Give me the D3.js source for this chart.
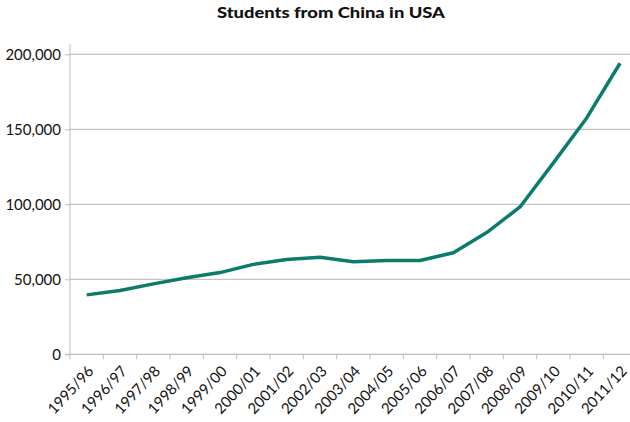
<!DOCTYPE html>
<html><head><meta charset="utf-8">
<script src="https://cdn.jsdelivr.net/npm/d3@7"></script>
<style>body{margin:0;background:#fff;} svg{display:block;} text{font-family:Lato,"Open Sans",sans-serif;}</style>
</head><body>
<svg id="c" width="630" height="422"></svg>
<script>
const years = ["1995/96","1996/97","1997/98","1998/99","1999/00","2000/01","2001/02","2002/03","2003/04","2004/05","2005/06","2006/07","2007/08","2008/09","2009/10","2010/11","2011/12"];
const students = [39613,42503,46958,51001,54466,59939,63211,64757,61765,62523,62582,67723,81127,98235,127628,157558,194029];
const yTicks = [0,50000,100000,150000,200000];
const title = "Students from China in USA";

(function(){
const svg = d3.select("#c");
const mLeft = 70, mRight = 636.7, mTop = 54.3, mBottom = 354.3;
const x = d3.scaleBand().domain(years).range([mLeft, mRight]);
const y = d3.scaleLinear().domain([0,200000]).range([mBottom, mTop]);

svg.append("text").attr("x",331).attr("y",18).attr("text-anchor","middle")
  .attr("font-weight",900).attr("font-size",15.5).attr("fill","#111")
  .attr("textLength",228).attr("lengthAdjust","spacingAndGlyphs").text(title);

// gridlines
svg.append("g").selectAll("line").data(yTicks.filter(d=>d>0)).join("line")
  .attr("x1",mLeft).attr("x2",630).attr("y1",d=>y(d)).attr("y2",d=>y(d))
  .attr("stroke","#c4c4c4").attr("stroke-width",1.2);

// y axis
const ya = svg.append("g").attr("transform",`translate(${mLeft},0)`)
  .call(d3.axisLeft(y).tickValues(yTicks).tickSize(5).tickPadding(4).tickFormat(d3.format(",")));
ya.select(".domain").attr("stroke","#bdbdbd").attr("d",`M-5,${mBottom}H0V${mTop-10}`);
ya.selectAll(".tick line").attr("stroke","#bdbdbd");
ya.selectAll(".tick text").attr("font-size",15).attr("fill","#111").attr("font-family","Lato,sans-serif");

// x axis
const xa = svg.append("g").attr("transform",`translate(0,${mBottom})`);
xa.append("line").attr("x1",mLeft).attr("x2",630).attr("y1",0).attr("y2",0).attr("stroke","#bdbdbd").attr("stroke-width",1.2);
xa.selectAll("line.t").data(years.concat(["end"])).join("line").attr("class","t")
  .attr("x1",(d,i)=>mLeft+i*x.step()).attr("x2",(d,i)=>mLeft+i*x.step()).attr("y1",0).attr("y2",5)
  .attr("stroke","#bdbdbd");
xa.selectAll("text").data(years).join("text")
  .attr("transform",d=>`translate(${x(d)+x.bandwidth()/2+4},${14}) rotate(-47)`)
  .attr("text-anchor","end").attr("dy","0.35em").attr("font-size",15).attr("fill","#111").text(d=>d);

// line
const line = d3.line().x((d,i)=>x(years[i])+x.bandwidth()/2).y(d=>y(d));
svg.append("path").datum(students).attr("d",line).attr("fill","none")
  .attr("stroke","#0b7b6b").attr("stroke-width",3.5).attr("stroke-linejoin","round");
})();
</script>
</body></html>
